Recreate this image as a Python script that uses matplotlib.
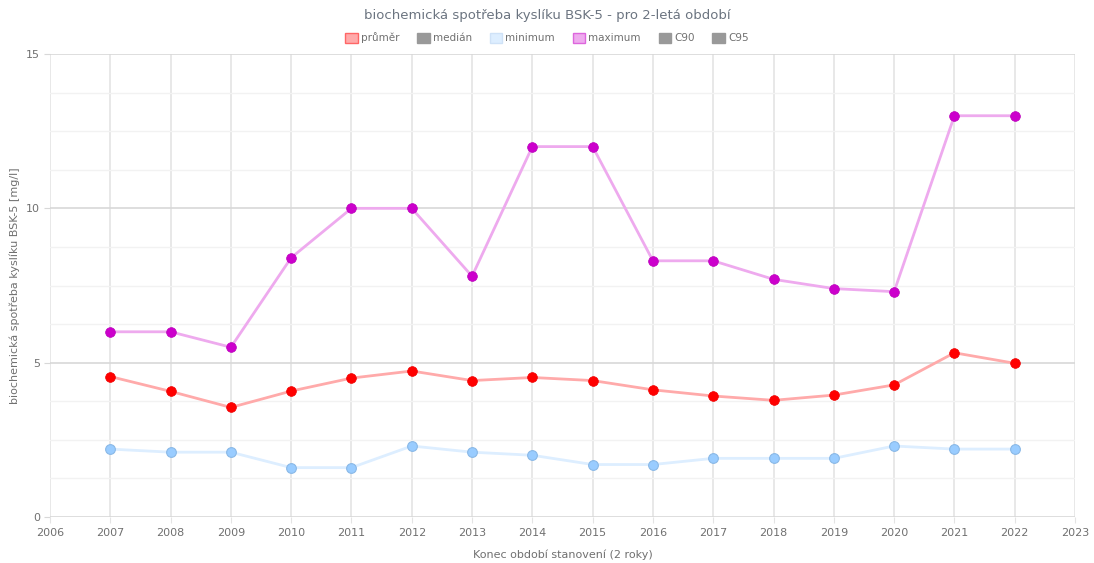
import matplotlib
matplotlib.use("Agg")
import matplotlib.pyplot as plt
from matplotlib.patches import Patch
from matplotlib.ticker import MultipleLocator

years = list(range(2007, 2023))
prumer = [4.55, 4.07, 3.55, 4.08, 4.50, 4.73, 4.42, 4.52, 4.42, 4.12, 3.92, 3.78, 3.95, 4.28, 5.32, 4.98]
maximum = [6.0, 6.0, 5.5, 8.4, 10.0, 10.0, 7.8, 12.0, 12.0, 8.3, 8.3, 7.7, 7.4, 7.3, 13.0, 13.0]
minimum = [2.2, 2.1, 2.1, 1.6, 1.6, 2.3, 2.1, 2.0, 1.7, 1.7, 1.9, 1.9, 1.9, 2.3, 2.2, 2.2]
legend_labels = ["průměr", "medián", "minimum", "maximum", "C90", "C95"]

TXT = "#707070"

fig = plt.figure(figsize=(10.94, 5.63), dpi=100)
ax = fig.add_axes([50 / 1094, 46 / 563, 1025 / 1094, 463 / 563])

# gridlines: minor every 1.25, major every 5, vertical per year
ax.yaxis.set_major_locator(MultipleLocator(5))
ax.yaxis.set_minor_locator(MultipleLocator(1.25))
ax.xaxis.set_major_locator(MultipleLocator(1))
ax.grid(which="minor", axis="y", color="#f2f2f2", lw=1)
ax.grid(which="major", axis="y", color="#d8d8d8", lw=1.2)
ax.grid(which="major", axis="x", color="#e4e4e4", lw=1.2)
ax.set_axisbelow(True)

ax.plot(years, minimum, color="#ddeeff", lw=2, zorder=2)
ax.plot(years, minimum, ls="none", marker="o", ms=7, mfc="#99ccff",
        mec="#8ab8e6", mew=0.8, zorder=3)
ax.plot(years, prumer, color="#ffaaaa", lw=2, zorder=2)
ax.plot(years, prumer, ls="none", marker="o", ms=7, mfc="#ff0000",
        mec="#ee0000", mew=0.5, zorder=3)
ax.plot(years, maximum, color="#eeaaee", lw=2, zorder=2)
ax.plot(years, maximum, ls="none", marker="o", ms=7, mfc="#cc00cc",
        mec="#bb00bb", mew=0.5, zorder=3)

ax.set_xlim(2006, 2023)
ax.set_ylim(0, 15)
for s in ax.spines.values():
    s.set_visible(False)
ax.tick_params(axis="both", which="both", length=0, labelsize=8,
               labelcolor=TXT)
ax.tick_params(axis="y", which="major", length=4, color="#d8d8d8", pad=3)
ax.tick_params(axis="x", which="major", length=4, color="#e4e4e4", pad=4)
ax.set_xlabel("Konec období stanovení (2 roky)", fontsize=8, color=TXT, labelpad=8)
ax.set_ylabel("biochemická spotřeba kyslíku BSK-5 [mg/l]", fontsize=8,
              color=TXT)
ax.yaxis.set_label_coords(-30 / 1025, 0.5)

fig.text(0.5, 1 - 16 / 563, "biochemická spotřeba kyslíku BSK-5 - pro 2-letá období",
         ha="center", va="center", fontsize=9.5, color="#6b7480")

handles = [
    Patch(facecolor="#ffaaaa", edgecolor="#ff6666"),
    Patch(facecolor="#999999", edgecolor="#999999"),
    Patch(facecolor="#ddeeff", edgecolor="#cfe2f7"),
    Patch(facecolor="#eeaaee", edgecolor="#dd66dd"),
    Patch(facecolor="#999999", edgecolor="#999999"),
    Patch(facecolor="#999999", edgecolor="#999999"),
]
leg = fig.legend(handles, legend_labels, loc="center", ncol=6,
                 bbox_to_anchor=(0.5, 1 - 38 / 563), frameon=False,
                 fontsize=7.5, handlelength=1.2, handleheight=1.2,
                 handletextpad=0.3, columnspacing=1.7)
for t in leg.get_texts():
    t.set_color(TXT)

fig.savefig("out.png", dpi=100)
